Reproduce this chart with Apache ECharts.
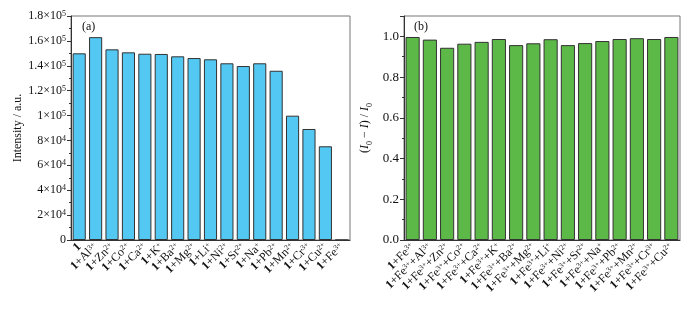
<!DOCTYPE html>
<html><head><meta charset="utf-8">
<script src="https://cdn.jsdelivr.net/npm/echarts@6/dist/echarts.min.js"></script>
<style>html,body{margin:0;padding:0;background:#fff}#c{width:691px;height:309px}</style>
</head><body><div id="c"></div>
<script>
const leftCats = ['{b|1}', '{b|1}+Al{s|3+}', '{b|1}+Zn{s|2+}', '{b|1}+Co{s|2+}', '{b|1}+Ca{s|2+}', '{b|1}+K{s|+}', '{b|1}+Ba{s|2+}', '{b|1}+Mg{s|2+}', '{b|1}+Li{s|+}', '{b|1}+Ni{s|2+}', '{b|1}+Sr{s|2+}', '{b|1}+Na{s|+}', '{b|1}+Pb{s|2+}', '{b|1}+Mn{s|2+}', '{b|1}+Cr{s|3+}', '{b|1}+Cu{s|2+}', '{b|1}+Fe{s|3+}'];
const leftValues = [150000, 163000, 153200, 150800, 149700, 149500, 147600, 146200, 145200, 142000, 139800, 142000, 136000, 99900, 89200, 75300, 0];
const rightCats = ['{b|1}+Fe{s|3+}', '{b|1}+Fe{s|3+}+Al{s|3+}', '{b|1}+Fe{s|3+}+Zn{s|2+}', '{b|1}+Fe{s|3+}+Co{s|2+}', '{b|1}+Fe{s|3+}+Ca{s|2+}', '{b|1}+Fe{s|3+}+K{s|+}', '{b|1}+Fe{s|3+}+Ba{s|2+}', '{b|1}+Fe{s|3+}+Mg{s|2+}', '{b|1}+Fe{s|3+}+Li{s|+}', '{b|1}+Fe{s|3+}+Ni{s|2+}', '{b|1}+Fe{s|3+}+Sr{s|2+}', '{b|1}+Fe{s|3+}+Na{s|+}', '{b|1}+Fe{s|3+}+Pb{s|2+}', '{b|1}+Fe{s|3+}+Mn{s|2+}', '{b|1}+Fe{s|3+}+Cr{s|3+}', '{b|1}+Fe{s|3+}+Cu{s|2+}'];
const rightValues = [0.997, 0.984, 0.944, 0.964, 0.973, 0.987, 0.957, 0.966, 0.986, 0.957, 0.967, 0.977, 0.987, 0.991, 0.987, 0.997];
const leftTickLabels = ['0', '2×10{s|4}', '4×10{s|4}', '6×10{s|4}', '8×10{s|4}', '1×10{s|5}', '1.2×10{s|5}', '1.4×10{s|5}', '1.6×10{s|5}', '1.8×10{s|5}'];
const rightTickLabels = ['0.0', '0.2', '0.4', '0.6', '0.8', '1.0'];

const FONT = '"Liberation Serif", "Times New Roman", serif';
const dark = '#333';
const richCat = {
  b: {fontFamily: FONT, fontWeight: 'bold', fontSize: 12, color: '#111'},
  s: {fontFamily: FONT, fontSize: 7.5, color: '#111', verticalAlign: 'top', lineHeight: 9}
};
const richTick = {
  s: {fontFamily: FONT, fontSize: 8, color: '#111', verticalAlign: 'top', lineHeight: 9}
};
const chart = echarts.init(document.getElementById('c'), null, {renderer: 'canvas'});
function catAxis(cats, gi) {
  return {
    type: 'category', gridIndex: gi, data: cats,
    axisLine: {lineStyle: {color: dark, width: 1}},
    axisTick: {alignWithLabel: true, length: 3, lineStyle: {color: dark}},
    axisLabel: {rotate: 45, interval: 0, fontFamily: FONT, fontSize: 12, color: '#111', margin: 5, rich: richCat}
  };
}
chart.setOption({
  animation: false,
  grid: [
    {left: 71, right: 341, top: 16, bottom: 69, show: true, borderColor: '#777', borderWidth: 1},
    {left: 404, right: 11, top: 16, bottom: 69, show: true, borderColor: '#777', borderWidth: 1}
  ],
  xAxis: [catAxis(leftCats, 0), catAxis(rightCats, 1)],
  yAxis: [
    {
      type: 'value', gridIndex: 0, min: 0, max: 180000, interval: 20000,
      name: 'Intensity / a.u.', nameLocation: 'middle', nameGap: 47,
      nameTextStyle: {fontFamily: FONT, fontSize: 12, color: '#111'},
      axisLine: {show: true, lineStyle: {color: dark}},
      axisTick: {show: true, length: 4, lineStyle: {color: dark}},
      minorTick: {show: true, splitNumber: 2, length: 2, lineStyle: {color: dark}},
      splitLine: {show: false},
      axisLabel: {fontFamily: FONT, fontSize: 12, color: '#111', margin: 5, rich: richTick,
        formatter: v => leftTickLabels[Math.round(v / 20000)] || ''}
    },
    {
      type: 'value', gridIndex: 1, min: 0, max: 1.1, interval: 0.2,
      name: '({i|I}{sub|0} − {i|I}) / {i|I}{sub|0}', nameLocation: 'middle', nameGap: 30,
      nameTextStyle: {fontFamily: FONT, fontSize: 12, color: '#111',
        rich: {i: {fontFamily: FONT, fontStyle: 'italic', fontSize: 12, color: '#111'},
               sub: {fontFamily: FONT, fontSize: 8, color: '#111', verticalAlign: 'bottom', lineHeight: 18}}},
      axisLine: {show: true, lineStyle: {color: dark}},
      axisTick: {show: true, length: 4, lineStyle: {color: dark}},
      minorTick: {show: true, splitNumber: 2, length: 2, lineStyle: {color: dark}},
      splitLine: {show: false},
      axisLabel: {fontFamily: FONT, fontSize: 13, color: '#111', margin: 5, showMaxLabel: false,
        formatter: v => (v > 1.05 ? '' : (rightTickLabels[Math.round(v / 0.2)] || ''))}
    }
  ],
  graphic: [
    {type: 'text', left: 82, top: 21, style: {text: '(a)', font: '12px "Liberation Serif"', fill: '#111'}},
    {type: 'text', left: 414, top: 21, style: {text: '(b)', font: '12px "Liberation Serif"', fill: '#111'}}
  ],
  series: [
    {type: 'bar', xAxisIndex: 0, yAxisIndex: 0, data: leftValues, barCategoryGap: '20%',
      itemStyle: {color: '#52C8F2', borderColor: '#333', borderWidth: 1}},
    {type: 'bar', xAxisIndex: 1, yAxisIndex: 1, data: rightValues, barCategoryGap: '18%',
      itemStyle: {color: '#5DB947', borderColor: '#333', borderWidth: 1}}
  ]
});
</script></body></html>
